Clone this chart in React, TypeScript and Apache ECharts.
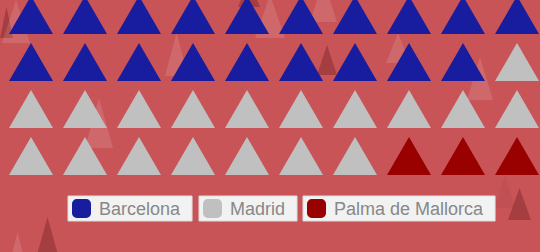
import React, { useEffect, useRef } from 'react';
import * as echarts from 'echarts';

const categories = ['Barcelona', 'Madrid', 'Palma de Mallorca'];
const counts = [19, 18, 3];
const colors = ['#181c9f', '#c0c0c0', '#990000'];
const columnsPerRow = 10;
const rows = 4;

// decorative faint background triangles: [x, y, width, height, kind]
const decor: [number, number, number, number, string][] = [
  [0, 7, 13, 31, 'dark'],
  [2, 0, 28, 43, 'light'],
  [165, 33, 23, 43, 'light'],
  [238, -20, 22, 27, 'dark'],
  [255, -5, 30, 43, 'light'],
  [310, -20, 27, 42, 'light'],
  [317, 45, 20, 30, 'dark'],
  [386, 33, 24, 30, 'light'],
  [467, 57, 26, 43, 'light'],
  [508, 188, 23, 32, 'dark'],
  [495, 175, 20, 33, 'faint'],
  [35, 217, 25, 45, 'dark'],
  [10, 232, 15, 30, 'light'],
  [85, 98, 28, 50, 'light'],
];

export default function App() {
  const ref = useRef<HTMLDivElement>(null);
  useEffect(() => {
    document.body.style.margin = '0';
    const chart = echarts.init(ref.current!, null, { renderer: 'svg' });
    let idx = 0;
    const series = categories.map((name, k) => {
      const data: number[][] = [];
      for (let i = 0; i < counts[k]; i++, idx++) {
        data.push([idx % columnsPerRow, Math.floor(idx / columnsPerRow)]);
      }
      return {
        type: 'scatter',
        name,
        data,
        symbol: 'triangle',
        symbolSize: [44, 38],
        itemStyle: { color: colors[k], opacity: 1 },
        z: 5,
        silent: true,
      };
    });
    const legendLefts = [68, 199, 303];
    const legend = categories.map((name, k) => ({
      data: [name],
      left: legendLefts[k],
      top: 196,
      orient: 'horizontal',
      backgroundColor: '#f2f2f2',
      borderColor: '#dcdcdc',
      borderWidth: 1,
      borderRadius: 0,
      padding: [3, 12, 3, 4],
      itemWidth: 19,
      itemHeight: 19,
      icon: 'roundRect',
      selectedMode: false,
      textStyle: {
        color: '#888',
        fontSize: 18,
        fontFamily: 'Liberation Sans, Arial, sans-serif',
        padding: [0, 0, 0, 3],
      },
    }));
    const fills: Record<string, string> = {
      dark: 'rgba(110,30,30,0.4)',
      light: 'rgba(255,255,255,0.12)',
      faint: 'rgba(150,60,60,0.15)',
    };
    const graphic = decor.map(([x, y, w, h, kind]) => ({
      type: 'polygon',
      z: -10,
      silent: true,
      shape: { points: [[x + w / 2, y], [x + w, y + h], [x, y + h]] },
      style: { fill: fills[kind] },
    }));
    chart.setOption({
      animation: false,
      backgroundColor: '#c85457',
      grid: { left: 4, width: 540, top: -8.5, height: 188, outerBoundsMode: 'none', containLabel: false },
      xAxis: { type: 'value', min: -0.5, max: columnsPerRow - 0.5, show: false },
      yAxis: { type: 'value', min: -0.5, max: rows - 0.5, inverse: true, show: false },
      legend,
      graphic,
      series,
    });
    return () => chart.dispose();
  }, []);
  return <div ref={ref} style={{ width: 540, height: 252, position: 'absolute', left: 0, top: 0 }} />;
}
